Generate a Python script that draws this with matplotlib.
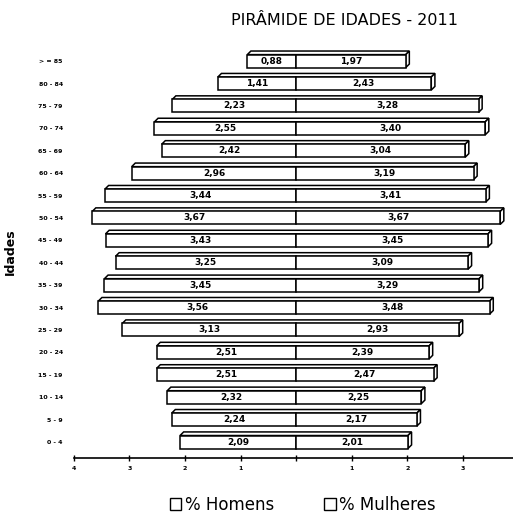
import numpy as np
import matplotlib
matplotlib.use('Agg')
import matplotlib.pyplot as plt
from matplotlib.patches import Polygon, Patch

# Age groups, from oldest (top) to youngest (bottom)
ages = ['> = 85', '80 - 84', '75 - 79', '70 - 74', '65 - 69', '60 - 64',
        '55 - 59', '50 - 54', '45 - 49', '40 - 44', '35 - 39', '30 - 34',
        '25 - 29', '20 - 24', '15 - 19', '10 - 14', '5 - 9', '0 - 4']
homens = [0.88, 1.41, 2.23, 2.55, 2.42, 2.96, 3.44, 3.67, 3.43, 3.25,
          3.45, 3.56, 3.13, 2.51, 2.51, 2.32, 2.24, 2.09]
mulheres = [1.97, 2.43, 3.28, 3.40, 3.04, 3.19, 3.41, 3.67, 3.45, 3.09,
            3.29, 3.48, 2.93, 2.39, 2.47, 2.25, 2.17, 2.01]
xticks = [-4, -3, -2, -1, 0, 1, 2, 3]
xticklabels = ['4', '3', '2', '1', '', '1', '2', '3']

fig = plt.figure(figsize=(5.13, 5.23), dpi=100)
ax = fig.add_axes([0.144, 0.124, 0.856, 0.79])

n = len(ages)
y = np.arange(n)[::-1]
h = 0.58
dx = 0.065
dy = 0.16
lw = 1.1

ax.barh(y, [-v for v in homens], height=h, color='white', edgecolor='black', linewidth=lw, zorder=3)
ax.barh(y, mulheres, height=h, color='white', edgecolor='black', linewidth=lw, zorder=3)

# pseudo 3D faces (top strip and right side)
for yi, m, w in zip(y, homens, mulheres):
    top = Polygon([(-m, yi + h / 2), (-m + dx, yi + h / 2 + dy),
                   (w + dx, yi + h / 2 + dy), (w, yi + h / 2)],
                  closed=True, facecolor='white', edgecolor='black', linewidth=lw, zorder=2)
    side = Polygon([(w, yi - h / 2), (w + dx, yi - h / 2 + dy),
                    (w + dx, yi + h / 2 + dy), (w, yi + h / 2)],
                   closed=True, facecolor='white', edgecolor='black', linewidth=lw, zorder=2)
    ax.add_patch(top)
    ax.add_patch(side)
    ax.text(-m / 2, yi, f'{m:.2f}'.replace('.', ','), ha='center', va='center',
            fontsize=6.5, fontweight='semibold', zorder=4)
    ax.text(w / 2, yi, f'{w:.2f}'.replace('.', ','), ha='center', va='center',
            fontsize=6.5, fontweight='semibold', zorder=4)

ax.set_xlim(-4, 3.9)
ax.set_ylim(-0.72, 17.72)
ax.set_yticks(y)
ax.set_yticklabels(ages, fontsize=4.5, fontweight='bold')
ax.tick_params(axis='y', length=0, pad=8)
ax.set_xticks(xticks)
ax.set_xticklabels(xticklabels, fontsize=4.5, fontweight='bold')
ax.tick_params(axis='x', length=4, width=1, direction='inout', pad=4)
for s in ['top', 'right', 'left']:
    ax.spines[s].set_visible(False)
ax.spines['bottom'].set_linewidth(1.2)
ax.set_ylabel('Idades', fontsize=9, fontweight='bold')
ax.yaxis.set_label_coords(-0.13, 0.5)

fig.text(0.672, 0.96, 'PIRÂMIDE DE IDADES - 2011', ha='center', va='center', fontsize=11.5)

handles = [Patch(facecolor='white', edgecolor='black', linewidth=1),
           Patch(facecolor='white', edgecolor='black', linewidth=1)]
fig.legend(handles, ['% Homens', '% Mulheres'], loc='center', bbox_to_anchor=(0.59, 0.035),
           ncol=2, frameon=False, fontsize=12, handlelength=0.7, handleheight=0.7,
           handletextpad=0.2, columnspacing=3.0)

plt.savefig('out.png', dpi=100)
